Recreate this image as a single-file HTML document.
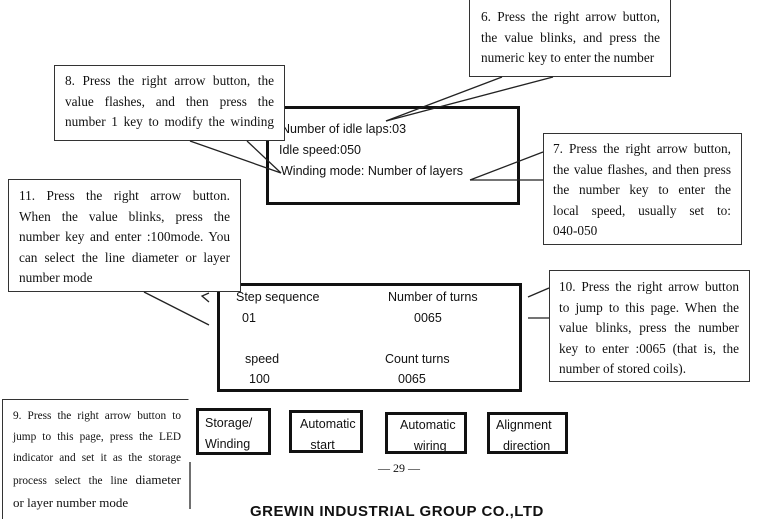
<!DOCTYPE html>
<html><head><meta charset="utf-8"><style>
body{margin:0;width:768px;height:509px;overflow:hidden;background:#fff;position:relative;font-family:"Liberation Serif",serif;color:#111}
.c{position:absolute;background:#fff;border:1.3px solid #333;box-sizing:border-box;font-size:13.3px;line-height:20.6px}
.c div{text-align:justify;text-align-last:justify;white-space:nowrap}
.c div.l{text-align-last:left}
.s{position:absolute;font-family:"Liberation Sans","DejaVu Sans",sans-serif;font-size:12.5px;white-space:nowrap}
.b{position:absolute;border:3px solid #111;box-sizing:border-box;background:#fff}
.btn{position:absolute;border:3px solid #111;box-sizing:border-box;font-family:"Liberation Sans",sans-serif;font-size:12.5px;line-height:21px;background:#fff}
svg{position:absolute;left:0;top:0}
</style></head><body>
<div class="b" style="left:266px;top:106px;width:254px;height:99px"></div>
<div class="s" style="left:281px;top:122px">Number of idle laps:03</div>
<div class="s" style="left:279px;top:143px">Idle speed:050</div>
<div class="s" style="left:281px;top:164px">Winding mode: Number of layers</div>

<div class="b" style="left:217px;top:283px;width:305px;height:109px"></div>
<div class="s" style="left:236px;top:290px">Step sequence</div>
<div class="s" style="left:242px;top:311px">01</div>
<div class="s" style="left:388px;top:290px">Number of turns</div>
<div class="s" style="left:414px;top:311px">0065</div>
<div class="s" style="left:245px;top:352px">speed</div>
<div class="s" style="left:249px;top:372px">100</div>
<div class="s" style="left:385px;top:352px">Count turns</div>
<div class="s" style="left:398px;top:372px">0065</div>

<div class="c" style="left:469px;top:-1px;width:202px;height:78px;padding:7px 10px 0 11px"><div>6. Press the right arrow button,</div><div>the value blinks, and press the</div><div class="l">numeric key to enter the number</div></div>
<div class="c" style="left:54px;top:65px;width:231px;height:76px;padding:5px 10px 0 10px"><div>8. Press the right arrow button, the</div><div>value flashes, and then press the</div><div>number 1 key to modify the winding</div></div>
<div class="c" style="left:543px;top:133px;width:199px;height:112px;padding:5px 10px 0 9px"><div>7. Press the right arrow button,</div><div>the value flashes, and then press</div><div>the number key to enter the</div><div>local speed, usually set to:</div><div class="l">040-050</div></div>
<div class="c" style="left:8px;top:179px;width:233px;height:113px;padding:6px 10px 0 10px"><div>11. Press the right arrow button.</div><div>When the value blinks, press the</div><div>number key and enter :100mode. You</div><div>can select the line diameter or layer</div><div class="l">number mode</div></div>
<div class="c" style="left:549px;top:270px;width:201px;height:112px;padding:6px 10px 0 9px"><div>10. Press the right arrow button</div><div>to jump to this page. When the</div><div>value blinks, press the number</div><div>key to enter :0065 (that is, the</div><div class="l">number of stored coils).</div></div>
<div class="c" style="left:2px;top:399px;width:189px;height:120px;padding:6px 10px 0 10px;font-size:11.3px;line-height:21px;border-right:none;border-bottom:none"><div>9. Press the right arrow button to</div><div>jump to this page, press the LED</div><div>indicator and set it as the storage</div><div>process select the line <span style="font-size:13px">diameter</span></div><div class="l" style="font-size:13px">or layer number mode</div></div>

<svg width="768" height="509">
<g stroke="#222" stroke-width="1.3" fill="none">
<line x1="502" y1="77" x2="386" y2="121"/><line x1="553" y1="77" x2="386" y2="121"/>
<line x1="190" y1="141" x2="281" y2="173"/><line x1="247" y1="141" x2="281" y2="173"/>
<line x1="543" y1="152" x2="470" y2="180"/><line x1="543" y1="180" x2="470" y2="180"/>
<line x1="144" y1="292" x2="209" y2="325"/><polyline points="209,293 202,296 209,302"/>
<line x1="549" y1="288" x2="528" y2="297"/><line x1="549" y1="318" x2="528" y2="318"/>
<line x1="190" y1="399" x2="190" y2="462" stroke="#fff" stroke-width="3"/>
<line x1="190" y1="462" x2="190" y2="509"/>
</g></svg>

<div class="btn" style="left:196px;top:408px;width:75px;height:47px;padding:2px 0 0 6px">Storage/<br>Winding</div>
<div class="btn" style="left:289px;top:410px;width:74px;height:43px;padding:1px 0 0 8px">Automatic<br>&nbsp;&nbsp;&nbsp;start</div>
<div class="btn" style="left:385px;top:412px;width:82px;height:42px;padding:0 0 0 12px;overflow:hidden;white-space:nowrap">Automatic<br>&nbsp;&nbsp;&nbsp;&nbsp;<u>wiring</u></div>
<div class="btn" style="left:487px;top:412px;width:81px;height:42px;padding:0 0 0 6px">Alignment<br>&nbsp;&nbsp;direction</div>
<div style="position:absolute;left:378px;top:461px;font-size:12px">— 29 —</div>
<div style="position:absolute;left:250px;top:503px;font-family:'Liberation Sans',sans-serif;font-weight:bold;font-size:15px;letter-spacing:0.5px">GREWIN INDUSTRIAL GROUP CO.,LTD</div>
</body></html>
